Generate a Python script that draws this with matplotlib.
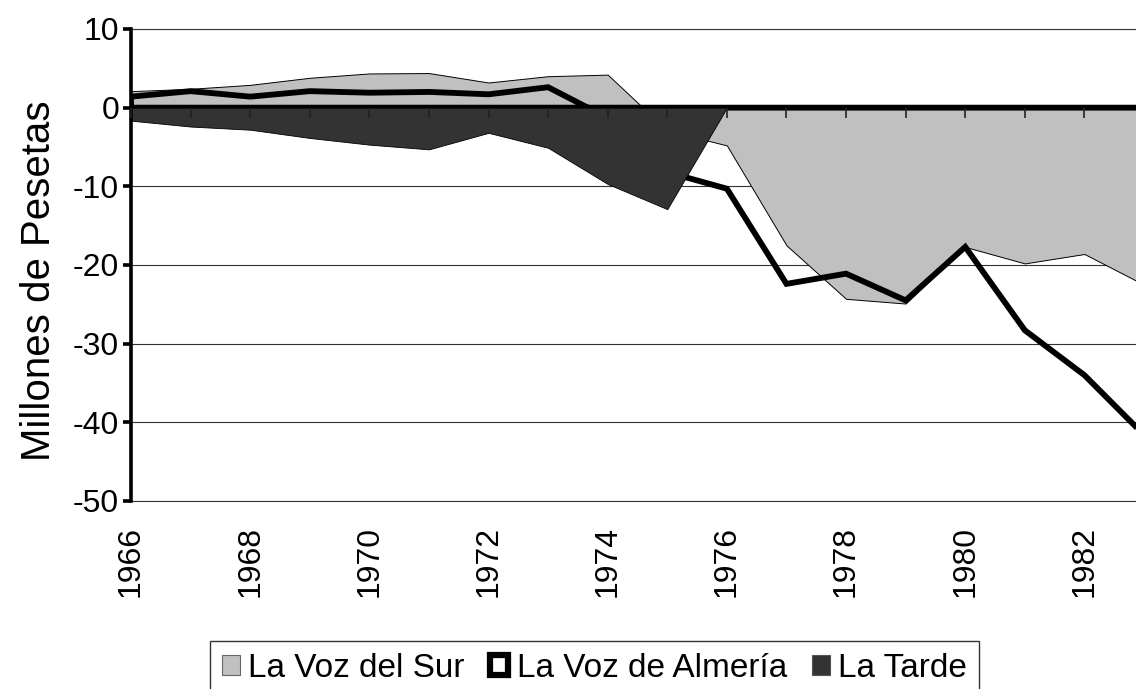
import matplotlib
matplotlib.use("Agg")
import matplotlib.pyplot as plt
from matplotlib.patches import Patch

plt.rcParams['font.family'] = ['Liberation Sans', 'DejaVu Sans']

years = list(range(1966, 1984))
voz_del_sur = [2.1, 2.4, 2.9, 3.8, 4.35, 4.4, 3.2, 4.0, 4.2, -2.9, -4.8,
               -17.5, -24.3, -24.9, -17.7, -19.8, -18.6, -22.5]
voz_de_almeria = [1.4, 2.1, 1.4, 2.1, 1.9, 2.0, 1.7, 2.6, -1.3, -8.2, -10.3,
                  -22.4, -21.1, -24.5, -17.7, -28.3, -34.0, -41.6]
la_tarde = [-1.65, -2.4, -2.8, -3.85, -4.7, -5.3, -3.2, -5.1, -9.7, -12.9, 0,
            0, 0, 0, 0, 0, 0, 0]
series_names = ["La Voz del Sur", "La Voz de Almería", "La Tarde"]
yticks = [10, 0, -10, -20, -30, -40, -50]
xtick_labels = [str(y) for y in years[::2]]

W, H = 1136, 689
fig = plt.figure(figsize=(W / 100, H / 100), dpi=100)
ax = fig.add_axes([131 / W, 188 / H, 1013 / W, 472 / H])

light = '#C0C0C0'
dark = '#333333'

ax.fill_between(years, voz_del_sur, 0, facecolor=light, edgecolor='black',
                linewidth=0.7, zorder=2)
ax.fill_between(years, voz_de_almeria, 0, facecolor='none', edgecolor='black',
                linewidth=4.2, zorder=3, joinstyle='miter')
ax.fill_between(years, la_tarde, 0, facecolor=dark, edgecolor='black',
                linewidth=0.6, zorder=4)

ax.set_xlim(years[0], years[-1])
ax.set_ylim(min(yticks), max(yticks))
ax.set_yticks(yticks)
ax.set_yticklabels([str(v) for v in yticks])
ax.grid(axis='y', color='#333333', linewidth=0.8, zorder=1)
ax.set_axisbelow(True)

ax.spines['right'].set_visible(False)
for s in ['top', 'bottom']:
    ax.spines[s].set_color('#333333')
    ax.spines[s].set_linewidth(0.8)
ax.spines['left'].set_linewidth(2.6)
ax.spines['left'].set_zorder(6)

ax.set_xticks(years[::2])
ax.set_xticklabels(xtick_labels, rotation=90, fontsize=23)
ax.tick_params(axis='x', length=0, pad=18)
ax.tick_params(axis='y', direction='out', length=5.5, width=2.6, labelsize=23, pad=3)

sec = ax.secondary_xaxis((0 - min(yticks)) / (max(yticks) - min(yticks)))
sec.set_xticks(years)
sec.tick_params(axis='x', direction='in', length=7, width=1.2, color='#222222',
                labeltop=False, labelbottom=False)
for s in sec.spines.values():
    s.set_visible(False)
sec.set_zorder(10)

ax.set_ylabel("Millones de Pesetas", fontsize=29)
ax.yaxis.set_label_coords((58 - 131) / 1013, (689 - 281 - 188) / 472)

handles = [
    Patch(facecolor=light, edgecolor='#666666', linewidth=0.8),
    Patch(facecolor='white', edgecolor='black', linewidth=4.5),
    Patch(facecolor=dark, edgecolor='#555555', linewidth=0.8),
]
leg = fig.legend(handles, series_names, loc='upper center',
                 bbox_to_anchor=(594.5 / W, 1 - 641 / H),
                 ncol=3, frameon=True, fancybox=False, edgecolor='black',
                 fontsize=24, handlelength=0.55, handleheight=0.55, handletextpad=0.25,
                 columnspacing=0.75, borderpad=0.35, borderaxespad=0)
leg.get_frame().set_linewidth(1.0)

fig.savefig("out.png", dpi=100)
